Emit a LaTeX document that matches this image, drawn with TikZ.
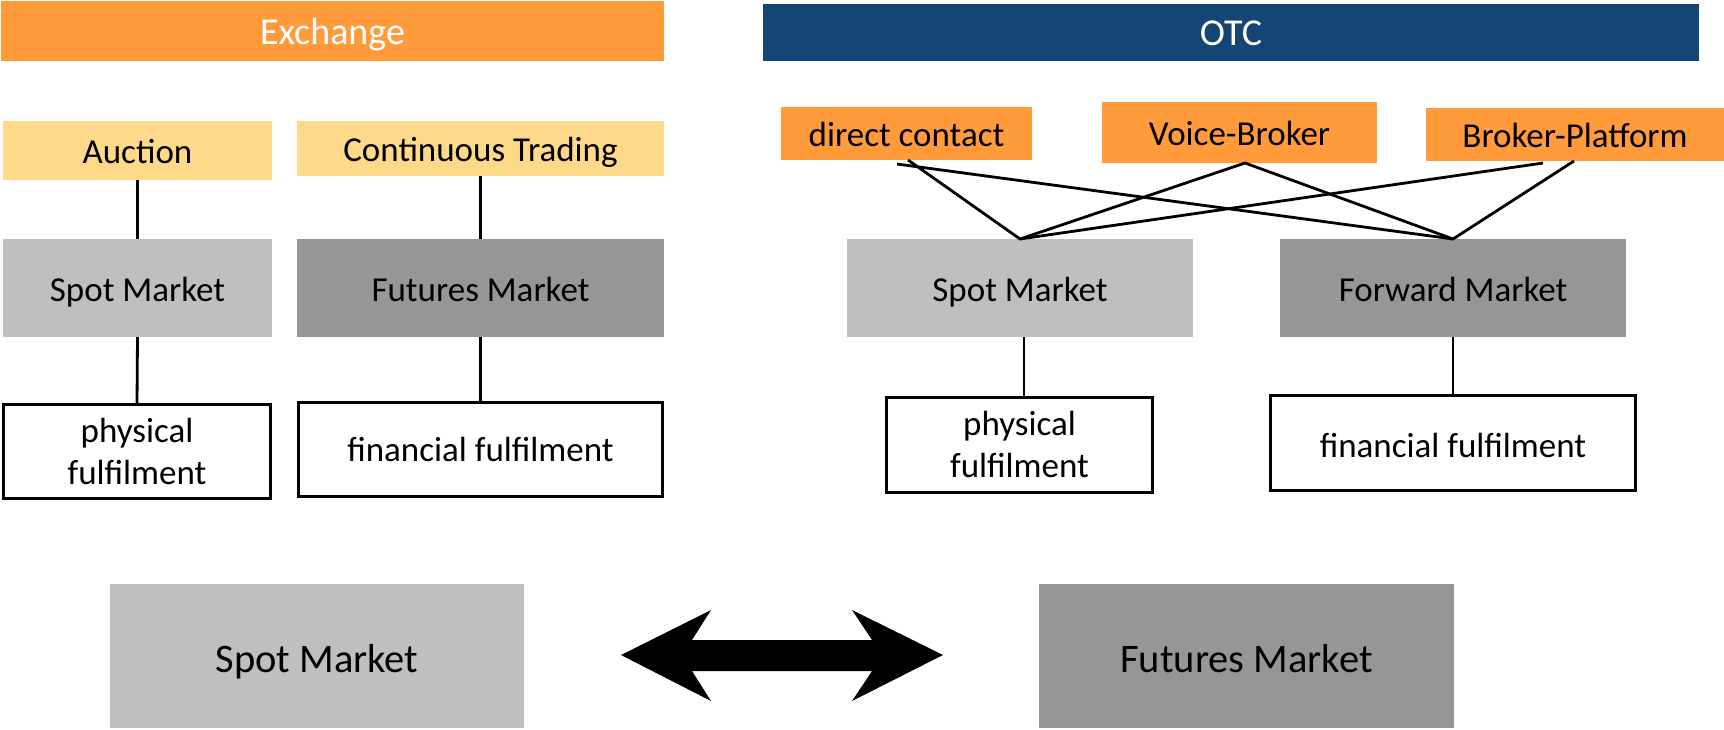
\documentclass[tikz,border=0pt]{standalone}
\usepackage{fontspec}
\setmainfont{Carlito}
\usetikzlibrary{calc}
\definecolor{orangeA}{HTML}{FF9B3A}
\definecolor{yellowA}{HTML}{FFD98A}
\definecolor{navyA}{HTML}{154673}
\definecolor{grayL}{HTML}{BFBFBF}
\definecolor{grayD}{HTML}{969696}
\begin{document}
\begin{tikzpicture}[x=1pt,y=-1pt,
  every node/.style={inner sep=0pt, outer sep=0pt, align=center, font=\fontsize{35}{42}\selectfont},
  oneline/.style={text height=#1, text depth=0pt},
  oneline/.default=27pt,
  header/.style={fill=#1, text=white, oneline=26pt, font=\fontsize{38}{46}\selectfont},
  lvlbox/.style={fill=#1, text=black, oneline},
  fulbox/.style={draw=black, line width=3pt, fill=white},
  bigbox/.style={fill=#1, oneline=32pt, font=\fontsize{40.5}{48}\selectfont},
  conn/.style={draw=black, line width=2.8pt}
]
\useasboundingbox (0,0) rectangle (1724,729);
% headers
\node[header=orangeA, minimum width=663, minimum height=60] (exch) at (332.5,31) {Exchange};
\node[header=navyA, minimum width=936, minimum height=57] (otc) at (1231,32.5) {OTC};
% exchange side
\node[lvlbox=yellowA, minimum width=269, minimum height=59, oneline=25pt] (auc) at (137.5,150.5) {Auction};
\node[lvlbox=yellowA, minimum width=367, minimum height=55, oneline=25pt] (cont) at (480.5,148.5) {Continuous Trading};
\node[lvlbox=grayL, minimum width=269, minimum height=98] (spotL) at (137.5,288) {Spot Market};
\node[lvlbox=grayD, minimum width=367, minimum height=98] (futL) at (480.5,288) {Futures Market};
\node[fulbox, minimum width=267, minimum height=94] (physL) at (137,451) {physical\\fulfilment};
\node[fulbox, minimum width=364, minimum height=94, oneline=23.5pt] (finL) at (480.5,449.5) {financial fulfilment};
% OTC side
\node[lvlbox=orangeA, minimum width=251, minimum height=53, oneline=25pt] (dc) at (906.5,133.5) {direct contact};
\node[lvlbox=orangeA, minimum width=275, minimum height=61, oneline=25pt] (vb) at (1239.5,132.5) {Voice-Broker};
\node[lvlbox=orangeA, minimum width=298, minimum height=53, oneline=25pt] (bp) at (1575,134.5) {Broker-Platform};
\node[lvlbox=grayL, minimum width=346, minimum height=98] (spotR) at (1020,288) {Spot Market};
\node[lvlbox=grayD, minimum width=346, minimum height=98] (fwd) at (1453,288) {Forward Market};
\node[fulbox, minimum width=266, minimum height=95] (physR) at (1019.5,444.5) {physical\\fulfilment};
\node[fulbox, oneline=29.5pt, minimum width=365, minimum height=95] (finR) at (1453,443) {financial fulfilment};
% bottom
\node[bigbox=grayL, minimum width=414, minimum height=144] (spotB) at (317,656) {Spot Market};
\node[bigbox=grayD, minimum width=415, minimum height=144] (futB) at (1246.5,656) {Futures Market};
% connectors exchange
\draw[conn] (auc.south) -- (spotL.north);
\draw[conn] (cont.south) -- (futL.north);
\draw[conn] (spotL.south) -- (physL.north);
\draw[conn] (futL.south) -- (finL.north);
% connectors OTC
\coordinate (dcF) at (897,164);
\coordinate (dcS) at (908,160);
\coordinate (vbP) at (1245,163);
\coordinate (bpS) at (1543,163);
\coordinate (bpF) at (1574,161);
\draw[conn, line join=round] (dcS) -- (spotR.north) -- (vbP) -- (fwd.north) -- (bpF);
\draw[conn] (dcF) -- (fwd.north);
\draw[conn] (bpS) -- (spotR.north);
\coordinate (spotRb) at ($(spotR.south)+(4,0)$);
\draw[conn] (spotRb) -- (spotRb |- physR.north);
\draw[conn] (fwd.south) -- (finR.north);
% double arrow between bottom boxes
\fill[black] (621,655) -- (711,610) -- (692,640) -- (872,640) -- (852,610) -- (943,655)
  -- (852,701) -- (872,671) -- (692,671) -- (711,701) -- cycle;
\end{tikzpicture}
\end{document}
